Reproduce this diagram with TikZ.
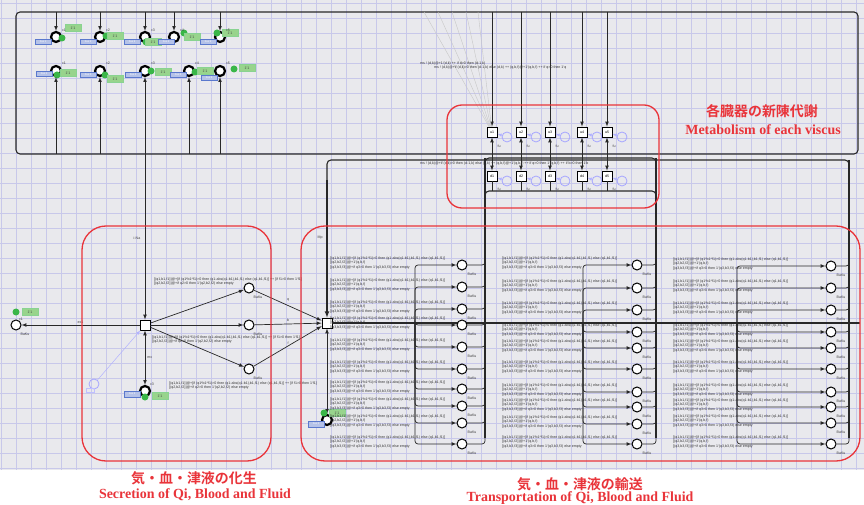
\documentclass[tikz,border=0pt]{standalone}
\usepackage{fontspec}
\setmainfont{Liberation Serif}
\setsansfont{Liberation Sans}
\newfontfamily\jpfont{Noto Sans CJK JP}[BoldFont={* Bold}]
\usetikzlibrary{arrows.meta,calc}

\definecolor{hlred}{RGB}{233,52,58}
\definecolor{gridbg}{RGB}{233,233,237}
\definecolor{gridln}{RGB}{200,200,234}
\definecolor{arcgray}{RGB}{40,40,40}
\definecolor{tokgreen}{RGB}{58,182,72}
\definecolor{tokfill}{RGB}{152,212,140}
\definecolor{portblue}{RGB}{90,120,205}

\newcommand{\tinyfont}{\sffamily\fontsize{3.6}{4.2}\selectfont}
\newcommand{\insctext}{[(q1,b1,f1)]@+[if (q1*b1*f1)>0 then (q1-abs(q1-b1),b1,f1) else (q1,b1,f1)]\\\relax
  [(q2,b2,f2)]@+1`(q,b,f)\\\relax
  [(q3,b3,f3)]@+if q3>0 then 1`(q3,b3,f3) else empty}
\newcommand{\secrtext}{[(q1,b1,f1)]@+[if (q1*b1*f1)>0 then (q1-abs(q1-b1),b1,f1) else (q1,b1,f1)] ++ [if f1>0 then 1`f1]\\\relax
  [(q2,b2,f2)]@+if q2>0 then 1`(q2,b2,f2) else empty}

\begin{document}
\begin{tikzpicture}[x=1bp,y=-1bp,>=latex,
    flow/.style={draw=arcgray, line width=0.7bp},
    bus/.style={draw=arcgray, line width=1.1bp},
    trunk/.style={draw=arcgray, line width=1.5bp},
    ghostline/.style={draw=blue!30, line width=0.5bp},
    place/.style={circle, draw=black, line width=1bp, fill=white,
        minimum size=10bp, inner sep=0pt},
    fplace/.style={circle, draw=black, line width=2.2bp, fill=white,
        minimum size=10bp, inner sep=0pt},
    trans/.style={rectangle, draw=black, line width=0.9bp, fill=white,
        minimum size=10bp, inner sep=0pt, font=\tinyfont},
    ghost/.style={circle, draw=blue!35, line width=0.8bp,
        minimum size=10bp, inner sep=0pt},
    tokdot/.style={circle, fill=tokgreen, minimum size=7bp, inner sep=0pt},
    tokbox/.style={rectangle, fill=tokfill, draw=tokgreen!60, line width=0.3bp,
        minimum width=16bp, minimum height=7bp, inner sep=0pt,
        font=\tinyfont, text=black!70},
    portbox/.style={rectangle, fill=portblue!45, draw=portblue, line width=0.5bp,
        minimum width=16bp, minimum height=5.5bp, inner sep=0pt,
        font=\sffamily\fontsize{2.6}{3}\selectfont, text=white},
    tiny/.style={font=\tinyfont, text=black!75, inner sep=0pt},
    insc/.style={font=\tinyfont, text=black!80, align=left, inner sep=0pt,
        anchor=north west},
    regionbox/.style={draw=hlred, line width=1.3bp, rounded corners=24bp},
    jptitle/.style={text=hlred, font=\jpfont\bfseries\fontsize{14}{16}\selectfont},
    entitle/.style={text=hlred, font=\bfseries\fontsize{14}{16}\selectfont}]

  \useasboundingbox (0,0) rectangle (864,505);

  % ---- canvas with the grid ----
  \fill[white] (0,0) rectangle (864,505);
  \fill[gridbg] (0,0) rectangle (864,470);
  \foreach \gx in {1,16,...,856}
    \draw[gridln, line width=0.6bp] (\gx,0) -- (\gx,470);
  \foreach \gy in {3,18,...,468}
    \draw[gridln, line width=0.6bp] (0,\gy) -- (864,\gy);

  % ---- the outer frame of the top lines ----
  \draw[bus, rounded corners=4bp] (16,12) rectangle (858,154);

  % ---- top left: two rows of fused places ----
  \foreach \px/\qx/\dx/\dy/\bx/\by [count=\i] in
      {56/-13/6/1/17/-9, 100/-12/6/-1/15/-1, 145/-13/1/5/8/5,
       174/-8/10/-4/18/0, 220/-12/-3/-4/10/-4} {
    \node[fplace] (pa\i) at (\px,37) {};
    \draw[flow,->] (\px,12) -- (pa\i);
    \node[portbox] (pab\i) at (\px+\qx,42) {Fus \i};
    \node[tokdot] (pat\i) at (\px+\dx,37+\dy) {};
    \node[tokbox] (pak\i) at (\px+\bx,37+\by) {1`1};
    \node[tiny] (pac\i) at (\px+8,30) {c\i};
  }
  \foreach \px/\qx/\qy/\dx/\dy/\bx/\by [count=\i] in
      {56/-12/3/1/4/12/2, 100/-12/4/5/4/15/8, 145/-12/4/6/0/18/1,
       189/-11/4/6/1/16/0, 220/-11/7/14/-2/27/-3} {
    \node[fplace] (pb\i) at (\px,71) {};
    \node[portbox] (pbb\i) at (\px+\qx,71+\qy) {Fus \i};
    \node[tokdot] (pbt\i) at (\px+\dx,71+\dy) {};
    \node[tokbox] (pbk\i) at (\px+\bx,71+\by) {1`1};
    \node[tiny] (pbc\i) at (\px+8,63) {c\i};
  }
  \foreach \i in {1,2,4,5}
    \draw[flow,<-] (pb\i) -- ($(pb\i)+(0,83)$);

  % ---- metabolism of each viscus ----
  \foreach \mx [count=\i] in {492,521,550,582,607} {
    \node[trans] (ma\i) at (\mx,132) {u\i};
    \node[ghost] (ga\i) at (\mx+15,137) {};
    \node[trans] (mb\i) at (\mx,176) {d\i};
    \node[ghost] (gb\i) at (\mx+15,181) {};
    \draw[flow,->] (\mx,12) -- (ma\i);
    \draw[flow,<->] (ma\i) -- (mb\i);
    \draw[flow] (mb\i) -- (\mx,191);
    \draw[ghostline,->] (ga\i) -- (ma\i);
    \draw[ghostline,->] (gb\i) -- (mb\i);
    \node[tiny] (fa\i) at (\mx+7,146) {fu};
    \node[tiny] (fb\i) at (\mx+7,189) {fu};
  }
  \foreach \sx in {424,438,452,466,478}
    \draw[draw=black!22, line width=0.4bp] (\sx,12) -- (ma1);
  \node[insc] (mt1) at (420,62) {ms~!~(d,k)@+1`(d,k) ++ if d>0 then (d-1,k)\\\relax
    \hspace{14bp}ms~!~(d,k)@+if (d,k)>0 then (d-1,k) else (d,k) ++ (q,b,f)@+1`(q,b,f) ++ if q>0 then 1`q};
  \node[insc] (mt2) at (420,162) {ms~!~(d,k)@+if (d,k)>0 then (d-1,k) else (d,k) ++ (q,b,f)@+1`(q,b,f) ++ if q>0 then 1`(q,b,f) ++ if b>0 then 1`b};

  % ---- buses down to the transport ----
  \draw[bus, rounded corners=4bp] (485,175) |- (656,158) -- (656,175);
  \draw[bus, rounded corners=4bp] (485,205) |- (656,191) -- (656,205);
  \draw[bus, rounded corners=4bp] (327,180) |- (849,160) -- (849,180);

  % ---- secretion of qi, blood and fluid ----
  \node[trans] (T1) at (145,325) {};
  \draw[flow,<->] (pb3) -- (T1);
  \node[tiny] (l1) at (137,238) {i-Na};

  \node[place] (P0) at (16,325) {};
  \node[tokdot] (tk0) at (16,312) {};
  \node[tokbox] (tb0) at (30,312) {1`1};
  \node[tiny] (pc0) at (21,319) {c1};
  \node[tiny] (pn0) at (25,334) {BaKu};
  \draw[flow,->] (T1) -- (P0) node[tiny, pos=0.5, above=1.5bp] (l0) {ex1};

  \foreach \ry/\rl [count=\i] in {288/q, 325/b, 369/f} {
    \node[place] (R\i) at (249,\ry) {};
    \node[tiny] (Rn\i) at (258,\ry+9) {BaKu};
    \draw[flow,->] (T1) -- (R\i);
  }
  \node[insc] (st1) at (154,278) {\secrtext};
  \node[insc] (st2) at (152,336) {\secrtext};
  \node[insc] (st3) at (169,382) {\secrtext};

  \node[fplace] (B0) at (145,391) {};
  \node[portbox] (Bb) at (132,394) {Fus 3};
  \node[tokdot] (Bt) at (145,397) {};
  \node[tokbox] (Bk) at (160,396) {1`1};
  \node[tiny] (Bc) at (152,384) {c3};
  \draw[flow,<->] (T1) -- (B0) node[tiny, midway, right=2bp] (lm) {mx};

  \node[ghost] (G0) at (94,384) {};
  \node[rectangle, draw=blue!25, minimum width=8bp, minimum height=4bp,
        inner sep=0pt] (G0b) at (90,390) {};
  \draw[ghostline,->] (G0) -- (T1);

  % ---- transport of qi, blood and fluid ----
  \node[trans] (T2) at (327,323) {};
  \draw[bus,->] (327,180) -- (T2);
  \node[tiny] (l2) at (320,238) {Mp};
  \foreach \ry/\rl [count=\i] in {288/q, 325/b, 369/f}
    \draw[flow,->] (R\i) -- (T2);
  \node[tiny] (lq) at (288,300) {q};
  \node[tiny] (lb) at (288,320) {b};
  \node[tiny] (lf) at (288,343) {f};
  \draw[trunk] (T2) -- (860,323);

  \node[fplace] (F0) at (327,420) {};
  \draw[flow,<->] (T2) -- (F0);
  \node[portbox] (Fb) at (316,424) {Fus 2};
  \node[tokdot] (Ft) at (324,413) {};
  \node[tokbox] (Fk) at (337,413) {1`1};

  \foreach \col/\xl/\xp/\xr/\xt/\xtop/\ylist in
      {1/415/462/485/330/158/{265,287,309,325,347,369,389,406,423,444},
       2/583/637/656/502/158/{265,288,310,332,348,369,392,407,424,444},
       3/737/831/849/673/160/{266,288,310,332,348,369,392,407,423,444}} {
    \draw[bus] (\xr,\xtop) -- (\xr,438);
    \foreach \yp [count=\k] in \ylist {
      \node[place] (c\col p\k) at (\xp,\yp) {};
      \node[tiny] (c\col n\k) at (\xp+10,\yp+9) {BaKu};
      \draw[flow,->,rounded corners=3bp] (\xl,323) |- (c\col p\k);
      \draw[flow,rounded corners=3bp] (c\col p\k) -| (\xr,\yp-6);
      \node[insc] (c\col t\k) at (\xt,\yp-8) {\insctext};
    }
  }

  % ---- the three regions ----
  \draw[regionbox, rounded corners=15bp] (447,105) rectangle (659,208);
  \draw[regionbox] (82,226) rectangle (271,461);
  \draw[regionbox] (301,226) rectangle (860,461);

  \node[jptitle] (mtj) at (762,111) {各臓器の新陳代謝};
  \node[entitle] (mte) at (763,130) {Metabolism of each viscus};
  \node[jptitle] (stj) at (194,478) {気・血・津液の化生};
  \node[entitle] (ste) at (195,495) {Secretion of Qi, Blood and Fluid};
  \node[jptitle] (ttj) at (580,484) {気・血・津液の輸送};
  \node[entitle] (tte) at (580,498) {Transportation of Qi, Blood and Fluid};

\end{tikzpicture}
\end{document}
